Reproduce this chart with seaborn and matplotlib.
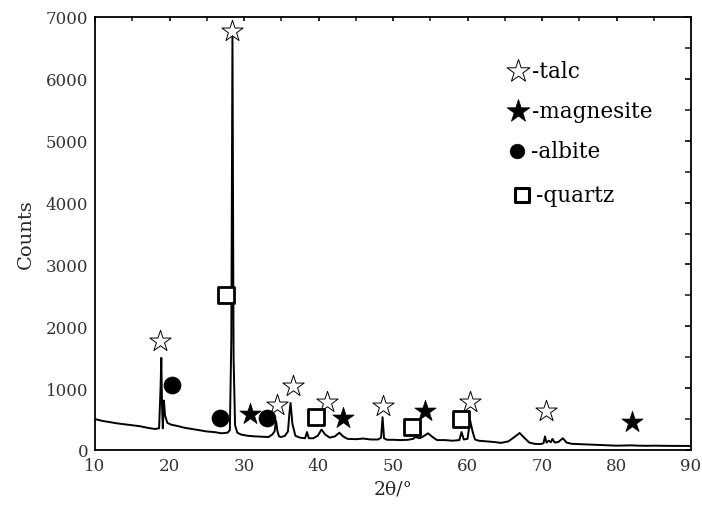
import matplotlib
matplotlib.use("Agg")
import matplotlib.pyplot as plt
from matplotlib.ticker import MultipleLocator
import seaborn as sns
import pandas as pd

# XRD pattern (2θ in degrees, intensity in counts)
theta = [10.0, 11.0, 12.0, 13.0, 14.0, 15.0, 16.0, 17.0, 18.0, 18.6,
         18.8, 18.9, 19.0, 19.1, 19.25, 19.4, 19.7, 20.2, 21.0, 22.0,
         23.0, 24.0, 25.0, 26.0, 27.0, 27.8, 28.1, 28.3, 28.45, 28.6,
         28.8, 29.1, 29.6, 30.5, 31.5, 32.5, 33.3, 33.8, 34.1, 34.3,
         34.5, 34.7, 35.0, 35.5, 35.9, 36.1, 36.25, 36.5, 36.9, 37.5,
         38.2, 38.45, 38.7, 39.3, 39.9, 40.4, 40.9, 41.5, 42.2, 42.8,
         43.3, 43.9, 45.0, 46.0, 47.0, 48.0, 48.4, 48.6, 48.8, 49.2,
         50.0, 51.0, 52.0, 52.7, 53.0, 53.6, 54.2, 54.7, 55.2, 55.9,
         57.0, 58.0, 58.9, 59.2, 59.5, 60.0, 60.35, 60.5, 60.7, 61.0,
         61.5, 62.5, 63.5, 64.5, 65.5, 66.3, 67.0, 67.6, 68.3, 69.0,
         69.8, 70.2, 70.4, 70.6, 70.9, 71.2, 71.4, 71.7, 72.2, 72.8,
         73.3, 74.0, 75.0, 76.0, 77.0, 78.0, 79.0, 80.0, 81.0, 82.0,
         83.0, 84.0, 85.0, 86.0, 87.0, 88.0, 89.0, 90.0]
counts = [500, 470, 450, 430, 415, 400, 385, 360, 340, 350,
          1000, 1490, 700, 350, 800, 560, 440, 410, 390, 360,
          340, 320, 300, 290, 270, 280, 320, 1800, 6750, 1500,
          400, 280, 250, 230, 220, 215, 210, 250, 300, 470,
          300, 220, 210, 230, 300, 600, 760, 420, 230, 200,
          190, 290, 190, 190, 230, 330, 250, 200, 220, 280,
          220, 180, 175, 185, 170, 170, 200, 530, 190, 165,
          165, 160, 165, 180, 210, 190, 230, 270, 220, 160,
          160, 150, 160, 290, 170, 180, 480, 400, 290, 170,
          150, 140, 130, 115, 140, 210, 275, 200, 120, 100,
          95, 110, 220, 120, 150, 125, 180, 120, 130, 190,
          120, 100, 95, 90, 85, 80, 75, 70, 72, 75,
          70, 68, 70, 68, 67, 66, 66, 65]

# Phase identification markers
talc_x = [18.7, 28.4, 34.4, 36.6, 41.1, 48.7, 60.3, 70.5]
talc_y = [1760, 6775, 725, 1035, 775, 710, 775, 630]
magnesite_x = [30.8, 43.3, 54.3, 82.1]
magnesite_y = [580, 515, 630, 455]
albite_x = [20.3, 26.8, 33.1]
albite_y = [1050, 515, 515]
quartz_x = [27.6, 39.7, 52.5, 59.1]
quartz_y = [2505, 535, 370, 500]

legend_labels = ["-talc", "-magnesite", "-albite", "-quartz"]

sns.set_style("white")
plt.rcParams["font.family"] = ["DejaVu Serif"]

fig = plt.figure(figsize=(7.02, 5.06), dpi=100)
ax = fig.add_axes([95 / 702, 1 - 451 / 506, 596 / 702, 433 / 506])

df = pd.DataFrame({"theta": theta, "counts": counts})
sns.lineplot(data=df, x="theta", y="counts", ax=ax, color="black",
             linewidth=1.4, estimator=None, sort=False)

sns.scatterplot(x=talc_x, y=talc_y, ax=ax, marker="*", s=260,
                facecolor="white", edgecolor="black", linewidth=0.7, zorder=5)
sns.scatterplot(x=magnesite_x, y=magnesite_y, ax=ax, marker="*", s=260,
                color="black", edgecolor="black", linewidth=0.5, zorder=5)
sns.scatterplot(x=albite_x, y=albite_y, ax=ax, marker="o", s=150,
                color="black", edgecolor="black", linewidth=0.5, zorder=5)
sns.scatterplot(x=quartz_x, y=quartz_y, ax=ax, marker="s", s=120,
                facecolor="white", edgecolor="black", linewidth=2.0, zorder=5)

# Key drawn as symbols with text beside them
key_y = [0.875, 0.782, 0.690, 0.590]
key_style = [
    dict(marker="*", s=300, facecolor="white", edgecolor="black", linewidth=0.7),
    dict(marker="*", s=300, facecolor="black", edgecolor="black", linewidth=0.5),
    dict(marker="o", s=110, facecolor="black", edgecolor="black", linewidth=0.5),
    dict(marker="s", s=110, facecolor="white", edgecolor="black", linewidth=2.2),
]
key_x = [0.71, 0.71, 0.708, 0.716]
for kx, ky, st, lab in zip(key_x, key_y, key_style, legend_labels):
    ax.scatter([kx], [ky], transform=ax.transAxes, zorder=6, clip_on=False, **st)
    ax.text(kx + 0.024, ky, lab, transform=ax.transAxes, fontsize=15.5,
            va="center", ha="left", color="black")

ax.set_xlim(10, 90)
ax.set_ylim(0, 7000)
ax.xaxis.set_major_locator(MultipleLocator(10))
ax.xaxis.set_minor_locator(MultipleLocator(5))
ax.yaxis.set_major_locator(MultipleLocator(1000))
ax.yaxis.set_minor_locator(MultipleLocator(500))
ax.tick_params(axis="both", which="major", direction="in", length=7, width=1.2,
               labelsize=12, colors="black", pad=5)
ax.tick_params(axis="both", which="minor", direction="in", length=4, width=1.2)
ax.tick_params(top=True, right=True, which="both")
ax.tick_params(axis="x", which="major", labeltop=False)
for spine in ax.spines.values():
    spine.set_linewidth(1.3)
    spine.set_color("black")

# shorter ticks on the top and right edges
for t in ax.xaxis.get_major_ticks() + ax.xaxis.get_minor_ticks():
    t.tick2line.set_markersize(3)
for t in ax.yaxis.get_major_ticks() + ax.yaxis.get_minor_ticks():
    t.tick2line.set_markersize(4)

for lab in ax.get_xticklabels() + ax.get_yticklabels():
    lab.set_color("#333333")

ax.set_xlabel("2θ/°", fontsize=13.5, labelpad=4)
ax.set_ylabel("Counts", fontsize=14, labelpad=8)

fig.savefig("out.png", dpi=100)
